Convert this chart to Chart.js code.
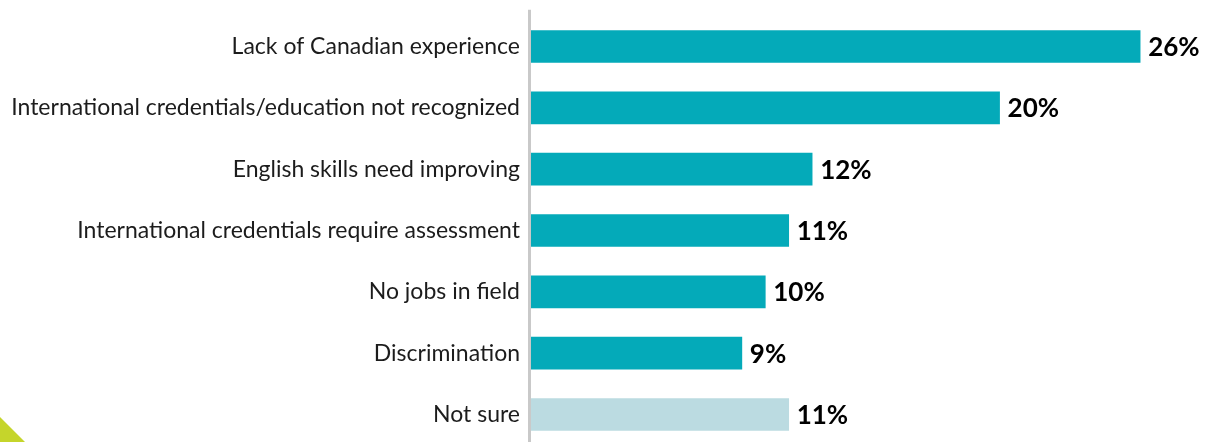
<!DOCTYPE html>
<html>
<head>
<meta charset="utf-8">
<script src="https://cdn.jsdelivr.net/npm/chart.js@4/dist/chart.umd.min.js"></script>
<style>
  html, body { margin: 0; padding: 0; background: #ffffff; overflow: hidden; }
  #wrap { position: relative; width: 1209px; height: 442px; overflow: hidden; }
  #chart-box { position: absolute; left: 0; top: -9px; width: 1209px; height: 479px; }
  .corner {
    position: absolute; left: 0; bottom: 0; width: 25px; height: 25px;
    background: #c5d52b; clip-path: polygon(0 0, 100% 100%, 0 100%);
  }
</style>
</head>
<body>
<div id="wrap">
  <div id="chart-box"><canvas id="c"></canvas></div>
  <div class="corner"></div>
</div>
<script>
const categories = [
  "Lack of Canadian experience",
  "International credentials/education not recognized",
  "English skills need improving",
  "International credentials require assessment",
  "No jobs in field",
  "Discrimination",
  "Not sure"
];
const percentValues = [26, 20, 12, 11, 10, 9, 11];
const barColors = ["#04aab9", "#04aab9", "#04aab9", "#04aab9", "#04aab9", "#04aab9", "#bbdbe1"];

const LABEL_FONT = "Lato, 'Source Sans Pro', sans-serif";

// Bold percentage written just past the end of each bar
const valueLabels = {
  id: "valueLabels",
  afterDatasetsDraw(chart) {
    const ctx = chart.ctx;
    const meta = chart.getDatasetMeta(0);
    ctx.save();
    ctx.font = "bold 26px " + LABEL_FONT;
    ctx.fillStyle = "#000000";
    ctx.textAlign = "left";
    ctx.textBaseline = "middle";
    meta.data.forEach((bar, i) => {
      ctx.fillText(percentValues[i] + "%", bar.x + 8, bar.y + 1);
    });
    ctx.restore();
  }
};

// Grey baseline running down from the top of the plot to the page bottom
const baseline = {
  id: "baseline",
  beforeDatasetsDraw(chart) {
    const ctx = chart.ctx;
    const x = chart.scales.x.getPixelForValue(0) - 1.5;
    ctx.save();
    ctx.strokeStyle = "#c9c9c9";
    ctx.lineWidth = 3;
    ctx.beginPath();
    ctx.moveTo(x, chart.chartArea.top - 6);
    ctx.lineTo(x, chart.height);
    ctx.stroke();
    ctx.restore();
  }
};

new Chart(document.getElementById("c"), {
  type: "bar",
  data: {
    labels: categories,
    datasets: [{
      data: percentValues,
      backgroundColor: barColors,
      borderWidth: 0,
      barThickness: 32
    }]
  },
  options: {
    indexAxis: "y",
    responsive: true,
    maintainAspectRatio: false,
    animation: false,
    layout: { padding: { top: 0, right: 22, bottom: 0, left: 0 } },
    plugins: { legend: { display: false }, tooltip: { enabled: false } },
    scales: {
      x: {
        min: 0, max: 28,
        display: false,
        grid: { display: false }
      },
      y: {
        grid: { display: false, drawTicks: false },
        border: { display: false },
        ticks: {
          color: "#1c1c1c",
          padding: 11,
          font: { family: LABEL_FONT, size: 23 }
        },
        afterFit(scale) { scale.width = 531; }
      }
    }
  },
  plugins: [baseline, valueLabels]
});
</script>
</body>
</html>
